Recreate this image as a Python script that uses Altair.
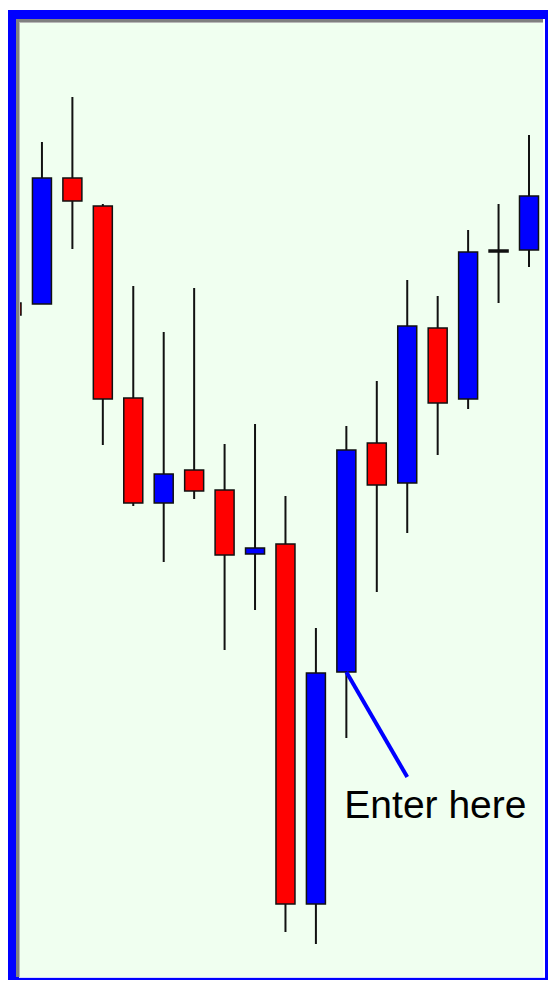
import altair as alt
import pandas as pd

# Candle data (price units)
idx = list(range(18))
opens = [682, 681, 807, 779, 587, 482, 515, 495, 431, 441, 81, 313, 542, 502, 657, 586, 733, 735]
closes = [670, 807, 784, 586, 482, 511, 494, 430, 437, 81, 312, 535, 500, 659, 582, 733, 735, 789]
highs = [682, 843, 888, 781, 699, 653, 697, 541, 561, 489, 357, 559, 604, 705, 689, 755, 781, 850]
lows = [670, 681, 736, 540, 479, 423, 486, 335, 375, 53, 41, 247, 393, 452, 530, 576, 682, 718]

# Annotation
arrow_x = [11, 13]
arrow_y = [313, 208]
label_x = 11
label_y = 167
label_text = "Enter here"

df = pd.DataFrame({"i": idx, "open": opens, "close": closes, "high": highs, "low": lows})
df["lo"] = df[["open", "close"]].min(axis=1)
df["hi"] = df[["open", "close"]].max(axis=1)


def kind(o, c):
    if abs(c - o) <= 2:
        return "doji"
    return "up" if c > o else "down"


df["dir"] = [kind(o, c) for o, c in zip(df["open"], df["close"])]

xs = alt.Scale(domain=[0.279, 17.460], nice=False, zero=False, padding=0)
ys = alt.Scale(domain=[8, 962], nice=False, zero=False, padding=0)

base = alt.Chart(df)

wicks = base.mark_rule(color="#111111", strokeWidth=2, clip=True).encode(
    x=alt.X("i:Q", scale=xs, axis=None),
    y=alt.Y("low:Q", scale=ys, axis=None),
    y2="high:Q",
)

bodies = base.mark_bar(size=19, stroke="#111111", strokeWidth=1.5, clip=True).encode(
    x=alt.X("i:Q", scale=xs, axis=None),
    y=alt.Y("lo:Q", scale=ys, axis=None),
    y2="hi:Q",
    fill=alt.Fill("dir:N", scale=alt.Scale(domain=["up", "down", "doji"],
                                           range=["#0000FF", "#FF0000", "#111111"]),
                  legend=None),
)

ann = pd.DataFrame({"x": [arrow_x[0]], "x2": [arrow_x[1]], "y": [arrow_y[0]], "y2": [arrow_y[1]]})
arrow = alt.Chart(ann).mark_rule(color="#0000FF", strokeWidth=4, clip=True).encode(
    x=alt.X("x:Q", scale=xs, axis=None),
    x2="x2:Q",
    y=alt.Y("y:Q", scale=ys, axis=None),
    y2="y2:Q",
)

lab = pd.DataFrame({"x": [label_x], "y": [label_y], "t": [label_text]})
text = alt.Chart(lab).mark_text(
    align="left", baseline="alphabetic", fontSize=39, font="Liberation Sans",
    color="#000000", dx=-2
).encode(
    x=alt.X("x:Q", scale=xs, axis=None),
    y=alt.Y("y:Q", scale=ys, axis=None),
    text="t:N",
)


def box(x, x2, y, y2, color):
    return alt.Chart(alt.Data(values=[{"k": 1}])).mark_rect(color=color, clip=False).encode(
        x=alt.value(x), x2=alt.value(x2), y=alt.value(y), y2=alt.value(y2)
    )


frame = [
    box(-12, 528, -15, -13, "#ffffff"),
    box(-4, -1, -4, 954, "#808080"),
    box(-1, 0, -4, 954, "#b8b8b8"),
    box(-4, 523, -4, -1, "#808080"),
    box(-1, 523, -1, 0, "#b8b8b8"),
    box(523, 525, -4, 954, "#ffffff"),
    box(-1, 525, 954, 955, "#d8d8ff"),
]

chart = alt.layer(wicks, bodies, arrow, text, *frame).properties(
    width=523,
    height=954,
    autosize="none",
    padding={"left": 12, "top": 15, "right": 5, "bottom": 3},
    background="#0000FF",
).configure_view(fill="#F0FFF0", strokeWidth=0)

chart.save("out.html", embed_options={"renderer": "svg", "actions": False})
